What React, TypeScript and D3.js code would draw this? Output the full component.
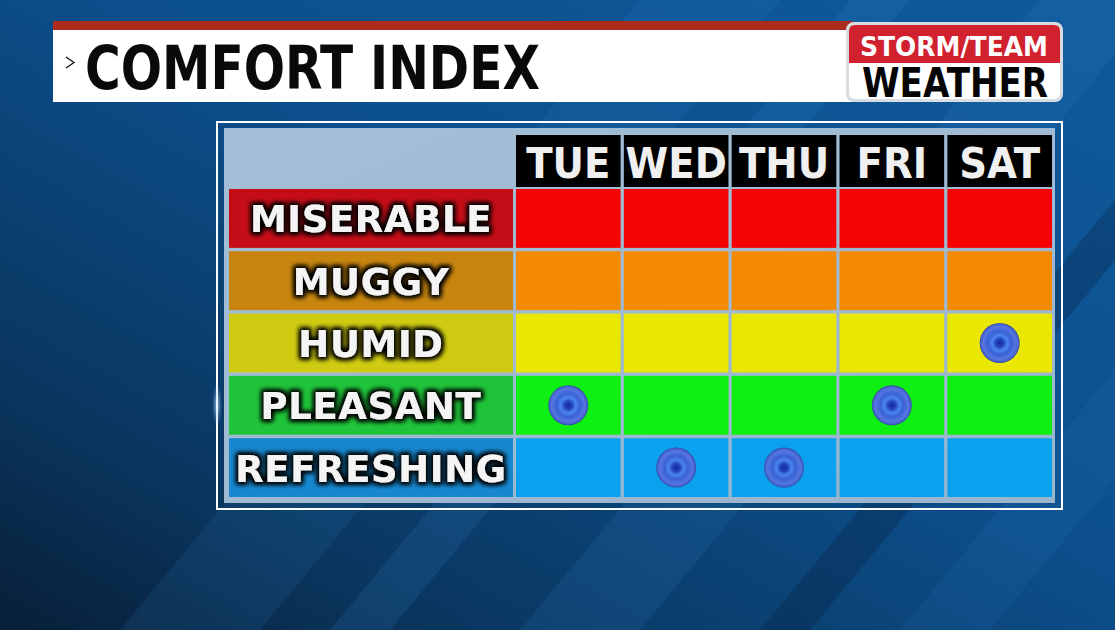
import React from 'react';
import * as d3 from 'd3';

const days = ['TUE', 'WED', 'THU', 'FRI', 'SAT'];
const levels = ['MISERABLE', 'MUGGY', 'HUMID', 'PLEASANT', 'REFRESHING'];
const labelColors = ['#c40d17', '#c7850f', '#cfcb12', '#1fc43a', '#1788d0'];
const cellColors = ['#f50303', '#f48a02', '#eae803', '#0df012', '#0aa2ef'];
const dayComfort = ['PLEASANT', 'REFRESHING', 'REFRESHING', 'PLEASANT', 'HUMID'];

const W = 1115;
const H = 630;

export default function App() {
  const x = d3.scaleBand().domain(days).range([516, 1052]).paddingInner(0.03);
  const y = d3.scaleBand().domain(levels).range([189, 497]).paddingInner(0.055);
  const labelX0 = 229;
  const labelX1 = 513;
  const headY0 = 135;
  const headY1 = 187;

  const streaks = [
    { x: 120, w: 140, o: 0.06 },
    { x: 330, w: 60, o: 0.08 },
    { x: 520, w: 120, o: 0.07 },
    { x: 760, w: 50, o: -0.12 },
    { x: 900, w: 90, o: 0.05 },
  ];

  return (
    <svg width={W} height={H} style={{ display: 'block', position: 'absolute', left: 0, top: 0 }}>
      <defs>
        <linearGradient id="bg" x1="1" y1="0" x2="0" y2="1">
          <stop offset="0" stopColor="#0f5a9c" />
          <stop offset="0.45" stopColor="#0c4f8c" />
          <stop offset="0.8" stopColor="#0a365f" />
          <stop offset="1" stopColor="#081f38" />
        </linearGradient>
        <linearGradient id="panel" x1="0" y1="0" x2="1" y2="1">
          <stop offset="0" stopColor="#a3bfd8" />
          <stop offset="1" stopColor="#9ab4cc" />
        </linearGradient>
        <radialGradient id="dot">
          <stop offset="0" stopColor="#15299a" />
          <stop offset="0.2" stopColor="#2446c0" />
          <stop offset="0.38" stopColor="#4a86ee" />
          <stop offset="0.58" stopColor="#3a62d4" />
          <stop offset="0.82" stopColor="#5676e0" />
          <stop offset="0.94" stopColor="#4460cc" />
          <stop offset="1" stopColor="#31489e" />
        </radialGradient>
        <radialGradient id="flare">
          <stop offset="0" stopColor="#ffffff" stopOpacity="0.95" />
          <stop offset="0.3" stopColor="#bfe0ff" stopOpacity="0.5" />
          <stop offset="1" stopColor="#6fb0ff" stopOpacity="0" />
        </radialGradient>
        <filter id="glow" x="-20%" y="-40%" width="140%" height="180%">
          <feMorphology in="SourceAlpha" operator="dilate" radius="1.5" result="d" />
          <feGaussianBlur in="d" stdDeviation="2.5" result="b" />
          <feFlood floodColor="#000" floodOpacity="0.95" />
          <feComposite in2="b" operator="in" result="s" />
          <feMerge>
            <feMergeNode in="s" />
            <feMergeNode in="s" />
            <feMergeNode in="SourceGraphic" />
          </feMerge>
        </filter>
      </defs>

      <rect width={W} height={H} fill="url(#bg)" />
      {streaks.map((s, i) => (
        <polygon
          key={i}
          points={`${s.x},${H} ${s.x + s.w},${H} ${s.x + s.w + 520},0 ${s.x + 520},0`}
          fill={s.o > 0 ? '#3a8ad0' : '#03162c'}
          opacity={Math.abs(s.o) * 2}
        />
      ))}

      {/* title bar */}
      <rect x={53} y={21} width={800} height={9} fill="#ab2c1c" />
      <rect x={53} y={30} width={800} height={72} fill="#ffffff" />
      <path d="M66,57 L74,62.5 L66,68" fill="none" stroke="#111" strokeWidth={1.3} />
      <text
        x={85}
        y={89}
        fontFamily="'DejaVu Sans Condensed', 'DejaVu Sans', sans-serif"
        fontWeight="bold"
        fontStretch="condensed"
        fontSize={60}
        textLength={455}
        lengthAdjust="spacingAndGlyphs"
        fill="#0a0a0a"
      >
        COMFORT INDEX
      </text>

      {/* logo */}
      <rect x={846} y={22} width={217} height={80} rx={8} fill="#d8dde3" />
      <rect x={849} y={25} width={211} height={74} rx={6} fill="#ffffff" />
      <path d="M849,63 L849,31 Q849,25 855,25 L1054,25 Q1060,25 1060,31 L1060,63 Z" fill="#d1202e" />
      <text
        x={954}
        y={56}
        textAnchor="middle"
        fontFamily="'DejaVu Sans', sans-serif"
        fontWeight="bold"
        fontSize={27}
        textLength={188}
        lengthAdjust="spacingAndGlyphs"
        fill="#ffffff"
      >
        STORM/TEAM
      </text>
      <text
        x={955}
        y={97}
        textAnchor="middle"
        fontFamily="'DejaVu Sans', sans-serif"
        fontWeight="bold"
        fontSize={41}
        textLength={186}
        lengthAdjust="spacingAndGlyphs"
        fill="#050505"
      >
        WEATHER
      </text>

      {/* panel */}
      <rect x={217} y={122} width={845} height={387} fill="none" stroke="#ffffff" strokeWidth={2} />
      <rect x={224} y={128} width={831} height={375} fill="url(#panel)" />

      {/* header */}
      {days.map((d) => (
        <g key={d}>
          <rect x={x(d)} y={headY0} width={x.bandwidth()} height={headY1 - headY0} fill="#000" />
          <text
            x={x(d)! + x.bandwidth() / 2}
            y={headY1 - 9}
            textAnchor="middle"
            fontFamily="'DejaVu Sans Condensed', 'DejaVu Sans', sans-serif"
            fontWeight="bold"
            fontSize={43}
            fill="#f0f0f0"
          >
            {d}
          </text>
        </g>
      ))}

      {/* rows */}
      {levels.map((lv, i) => (
        <g key={lv}>
          <rect x={labelX0} y={y(lv)} width={labelX1 - labelX0} height={y.bandwidth()} fill={labelColors[i]} />
          <text
            x={(labelX0 + labelX1) / 2}
            y={y(lv)! + y.bandwidth() / 2 + 14}
            textAnchor="middle"
            fontFamily="'DejaVu Sans', sans-serif"
            fontWeight="bold"
            fontSize={37}
            letterSpacing={0.6}
            fill="#f4f4f4"
            filter="url(#glow)"
          >
            {lv}
          </text>
          {days.map((d) => (
            <rect key={d} x={x(d)} y={y(lv)} width={x.bandwidth()} height={y.bandwidth()} fill={cellColors[i]} />
          ))}
        </g>
      ))}

      {/* markers */}
      {days.map((d, i) => (
        <circle
          key={d}
          cx={x(d)! + x.bandwidth() / 2}
          cy={y(dayComfort[i])! + y.bandwidth() / 2}
          r={20}
          fill="url(#dot)"
        />
      ))}

      {/* light flare on panel edge */}
      <ellipse cx={217} cy={405} rx={5} ry={22} fill="url(#flare)" />
    </svg>
  );
}
